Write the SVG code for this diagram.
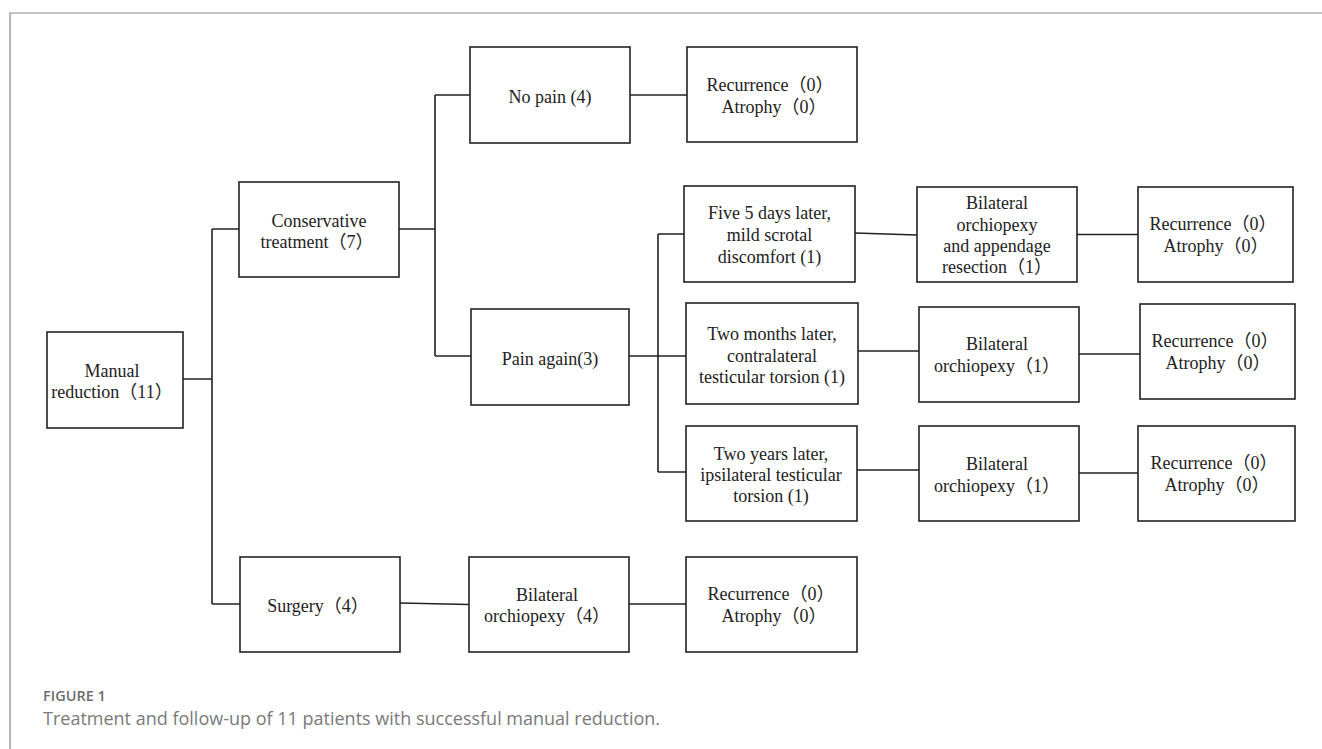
<svg xmlns="http://www.w3.org/2000/svg" width="1322" height="749" viewBox="0 0 1322 749">
<style>
.box{fill:#fff;stroke:#222;stroke-width:1.6}
.t{font-family:"Liberation Serif","Noto Sans CJK SC",serif;font-size:18px;fill:#222;text-anchor:middle}
.c{fill:none;stroke:#222;stroke-width:1.6}
.frame{fill:none;stroke:#8a8a8a;stroke-width:1.2}
.fig{font-family:"Open Sans","Liberation Sans",sans-serif;font-size:14.5px;font-weight:600;fill:#6d6d6d}
.cap{font-family:"Open Sans","Liberation Sans",sans-serif;font-size:18px;fill:#7a7a7a}
</style>
<rect width="1322" height="749" fill="#fff"/>
<path class="frame" d="M10,749 V13 H1322"/>
<g id="connectors">
<path class="c" d="M183,379 H212 M212,229 V604 M212,229 H239 M212,604 H240"/>
<path class="c" d="M399,229 H435 M435,95 V356 M435,95 H470 M435,356 H471"/>
<path class="c" d="M630,95 H687"/>
<path class="c" d="M629,356 H686 M658,234 V472 M658,234 H684 M658,472 H686"/>
<path class="c" d="M855,233 L917,235 M1077,234.5 H1138"/>
<path class="c" d="M858,351 H919 M1079,354 H1140"/>
<path class="c" d="M857,470 H919 M1079,473 H1138"/>
<path class="c" d="M400,603 L469,604.5 M629,604 H686"/>
</g>
<g id="manual"><rect class="box" x="47" y="332" width="136" height="96"/><text class="t" x="112" y="377">Manual</text><text class="t" x="112" y="398">reduction（11）</text></g>
<g id="conservative"><rect class="box" x="239" y="182" width="160" height="95"/><text class="t" x="319" y="227">Conservative</text><text class="t" x="317" y="248">treatment（7）</text></g>
<g id="surgery"><rect class="box" x="240" y="557" width="160" height="95"/><text class="t" x="318" y="612">Surgery（4）</text></g>
<g id="nopain"><rect class="box" x="470" y="47" width="160" height="96"/><text class="t" x="550" y="103">No pain (4)</text></g>
<g id="rec1"><rect class="box" x="687" y="47" width="170" height="95"/><text class="t" x="770" y="91">Recurrence（0）</text><text class="t" x="774" y="113">Atrophy（0）</text></g>
<g id="painagain"><rect class="box" x="471" y="309" width="158" height="96"/><text class="t" x="550" y="365">Pain again(3)</text></g>
<g id="fivedays"><rect class="box" x="684" y="186" width="171" height="96"/><text class="t" x="769.5" y="219">Five 5 days later,</text><text class="t" x="769.5" y="241">mild scrotal</text><text class="t" x="769.5" y="263">discomfort (1)</text></g>
<g id="twomonths"><rect class="box" x="686" y="303" width="172" height="101"/><text class="t" x="772" y="340">Two months later,</text><text class="t" x="772" y="362">contralateral</text><text class="t" x="772" y="383">testicular torsion (1)</text></g>
<g id="twoyears"><rect class="box" x="686" y="426" width="171" height="95"/><text class="t" x="771" y="460">Two years later,</text><text class="t" x="771" y="481">ipsilateral testicular</text><text class="t" x="771" y="502">torsion (1)</text></g>
<g id="bilat1"><rect class="box" x="917" y="187" width="160" height="95"/><text class="t" x="997" y="209">Bilateral</text><text class="t" x="997" y="231">orchiopexy</text><text class="t" x="997" y="252">and appendage</text><text class="t" x="997" y="273">resection（1）</text></g>
<g id="rec2"><rect class="box" x="1138" y="187" width="155" height="95"/><text class="t" x="1213" y="230">Recurrence（0）</text><text class="t" x="1216" y="252">Atrophy（0）</text></g>
<g id="bilat2"><rect class="box" x="919" y="307" width="160" height="95"/><text class="t" x="997" y="350">Bilateral</text><text class="t" x="997" y="372">orchiopexy（1）</text></g>
<g id="rec3"><rect class="box" x="1140" y="304" width="155" height="95"/><text class="t" x="1215" y="347">Recurrence（0）</text><text class="t" x="1218" y="369">Atrophy（0）</text></g>
<g id="bilat3"><rect class="box" x="919" y="426" width="160" height="95"/><text class="t" x="997" y="470">Bilateral</text><text class="t" x="997" y="492">orchiopexy（1）</text></g>
<g id="rec4"><rect class="box" x="1138" y="426" width="157" height="95"/><text class="t" x="1214" y="469">Recurrence（0）</text><text class="t" x="1217" y="491">Atrophy（0）</text></g>
<g id="bilat4"><rect class="box" x="469" y="557" width="160" height="95"/><text class="t" x="547" y="601">Bilateral</text><text class="t" x="547" y="622">orchiopexy（4）</text></g>
<g id="rec5"><rect class="box" x="686" y="557" width="171" height="95"/><text class="t" x="771" y="600">Recurrence（0）</text><text class="t" x="774" y="622">Atrophy（0）</text></g>
<text class="fig" x="43" y="701">FIGURE 1</text>
<text class="cap" x="43" y="725">Treatment and follow-up of 11 patients with successful manual reduction.</text>
</svg>
